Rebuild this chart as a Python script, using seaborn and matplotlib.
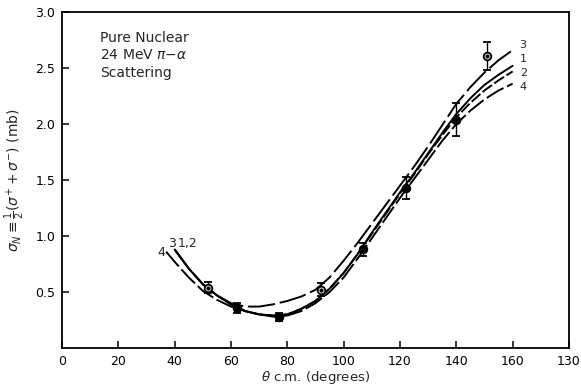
import matplotlib
matplotlib.use("Agg")
import matplotlib.pyplot as plt
import seaborn as sns
import pandas as pd

# measured points (theta c.m., sigma_N, error)
theta_pts = [52, 62, 77, 92, 107, 122, 140, 151]
sigma_pts = [0.54, 0.36, 0.28, 0.52, 0.88, 1.43, 2.04, 2.61]
sigma_err = [0.05, 0.045, 0.035, 0.06, 0.06, 0.095, 0.15, 0.125]
open_pts = [True, False, False, True, False, False, False, True]

# fitted curves
theta_c = [40, 45, 50, 55, 60, 65, 70, 75, 80, 85, 90, 95, 100, 105, 110,
           115, 120, 125, 130, 135, 140, 145, 150, 155, 160]
curve1 = [0.88, 0.71, 0.57, 0.47, 0.39, 0.33, 0.30, 0.29, 0.30, 0.35, 0.42, 0.53, 0.67,
          0.84, 1.03, 1.21, 1.39, 1.56, 1.74, 1.92, 2.09, 2.23, 2.35, 2.44, 2.52]
curve2 = [0.88, 0.71, 0.57, 0.47, 0.39, 0.33, 0.30, 0.29, 0.30, 0.35, 0.42, 0.53, 0.67,
          0.84, 1.02, 1.20, 1.38, 1.55, 1.73, 1.90, 2.06, 2.19, 2.30, 2.39, 2.47]
curve3 = [0.88, 0.71, 0.57, 0.47, 0.40, 0.37, 0.37, 0.39, 0.42, 0.46, 0.52, 0.63, 0.78,
          0.94, 1.11, 1.28, 1.45, 1.62, 1.80, 1.99, 2.18, 2.33, 2.46, 2.57, 2.66]
theta_c4 = [37, 40, 45, 50, 55, 60, 65, 70, 75, 80, 85, 90, 95, 100, 105, 110,
            115, 120, 125, 130, 135, 140, 145, 150, 155, 160]
curve4 = [0.86, 0.77, 0.63, 0.51, 0.43, 0.37, 0.33, 0.30, 0.28, 0.29, 0.33, 0.40, 0.50, 0.63,
          0.80, 0.98, 1.16, 1.34, 1.51, 1.68, 1.85, 2.00, 2.12, 2.22, 2.30, 2.36]

xticks = [0, 20, 40, 60, 80, 100, 120, 140, 160, 180]
xtick_labels = ["0", "20", "40", "60", "80", "100", "120", "140", "160", "130"]
yticks = [0.5, 1.0, 1.5, 2.0, 2.5, 3.0]
ytick_labels = ["0.5", "1.0", "1.5", "2.0", "2.5", "3.0"]

sns.set_style("ticks")
plt.rcParams["font.family"] = ["DejaVu Sans"]

fig = plt.figure(figsize=(5.81, 3.89), dpi=100)
ax = fig.add_axes([0.1067, 0.1054, 0.8726, 0.8636])

styles = {"1": "", "2": (6, 1.5), "3": (14, 2.5), "4": (10, 2)}
for name, xs, ys in [("1", theta_c, curve1), ("2", theta_c, curve2),
                     ("3", theta_c, curve3), ("4", theta_c4, curve4)]:
    df = pd.DataFrame({"theta": xs, "sigma": ys})
    sns.lineplot(data=df, x="theta", y="sigma", ax=ax, color="black", lw=1.4)
    if styles[name]:
        ax.lines[-1].set_dashes(styles[name])

for x, y, e, o in zip(theta_pts, sigma_pts, sigma_err, open_pts):
    ax.errorbar(x, y, yerr=e, fmt="o", ms=5.5, color="black", mfc="white" if o else "black",
                mew=1.3, capsize=3, elinewidth=1, capthick=1, zorder=5)
    if o:
        ax.plot(x, y, "o", ms=2, color="black", zorder=6)

# curve labels
for txt, x, y in [("3", 162.5, 2.71), ("1", 162.5, 2.58), ("2", 162.5, 2.46), ("4", 162.5, 2.33)]:
    ax.text(x, y, txt, fontsize=8, va="center", ha="left")
ax.text(37.5, 0.93, "3", fontsize=9, va="center", ha="left")
ax.text(41.0, 0.93, "1,2", fontsize=9, va="center", ha="left")
ax.text(34.0, 0.85, "4", fontsize=9, va="center", ha="left")

ax.text(13.5, 2.83, "Pure Nuclear\n24 MeV $\\pi$$-$$\\alpha$\nScattering", fontsize=10,
        va="top", ha="left", linespacing=1.3)

ax.set_xlim(0, 180)
ax.set_ylim(0, 3.0)
ax.set_xticks(xticks)
ax.set_xticklabels(xtick_labels)
ax.set_yticks(yticks)
ax.set_yticklabels(ytick_labels)
ax.tick_params(direction="in", length=5, width=1.1, labelsize=9, colors="black", pad=5)
for sp in ax.spines.values():
    sp.set_visible(True)
    sp.set_linewidth(1.3)
    sp.set_color("black")

ax.set_xlabel(r"$\theta$ c.m. (degrees)", fontsize=9.5, labelpad=1)
ax.set_ylabel(r"$\sigma_N \equiv \frac{1}{2}(\sigma^{+} + \sigma^{-})$ (mb)", fontsize=10, labelpad=6)

fig.savefig("out.png", dpi=100)
